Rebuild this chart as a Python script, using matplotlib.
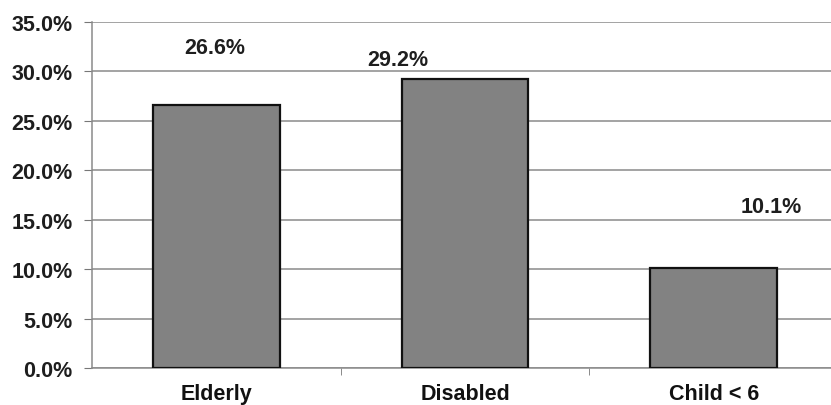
import matplotlib.pyplot as plt
from matplotlib.ticker import FixedLocator

groups = ['Elderly', 'Disabled', 'Child < 6']
shares = [26.6, 29.2, 10.1]
share_labels = ['26.6%', '29.2%', '10.1%']
label_x = [-0.005, 0.73, 2.23]
label_y = [31.9, 30.6, 15.8]
y_ticks = [0, 5, 10, 15, 20, 25, 30, 35]

plt.rcParams['font.family'] = ['Liberation Sans', 'DejaVu Sans']
plt.rcParams['font.weight'] = 'bold'

fig = plt.figure(figsize=(8.31, 4.06), dpi=100)
ax = fig.add_axes([92 / 831, 37 / 406, 746 / 831, 346 / 406])

x = range(len(groups))
ax.bar(x, shares, width=0.51, color='#828282', edgecolor='#111111',
       linewidth=1.6, zorder=3)

for xi, yi, txt in zip(label_x, label_y, share_labels):
    ax.text(xi, yi, txt, ha='center', va='baseline', fontsize=15.5,
            fontweight='bold', color='#1e1e1e')

ax.set_xlim(-0.5, 2.5)
ax.set_ylim(0, 35)
ax.set_yticks(y_ticks)
ax.set_yticklabels([f'{v:.1f}%' for v in y_ticks], fontsize=15.5,
                   fontweight='bold', color='#1e1e1e')
ax.set_xticks(list(x))
ax.set_xticklabels(groups, fontsize=15.5, fontweight='bold', color='#111111')
ax.xaxis.set_minor_locator(FixedLocator([0.5, 1.5]))

ax.tick_params(axis='x', which='major', length=0, pad=11)
ax.tick_params(axis='x', which='minor', length=5, color='#777777', direction='out')
ax.tick_params(axis='y', length=6, color='#777777', pad=8)

ax.grid(axis='y', color='#8a8a8a', linewidth=1.1, zorder=0)
for side in ['top', 'right']:
    ax.spines[side].set_visible(False)
for side in ['left', 'bottom']:
    ax.spines[side].set_color('#8a8a8a')
    ax.spines[side].set_linewidth(1.1)

fig.savefig('out.png', dpi=100)
